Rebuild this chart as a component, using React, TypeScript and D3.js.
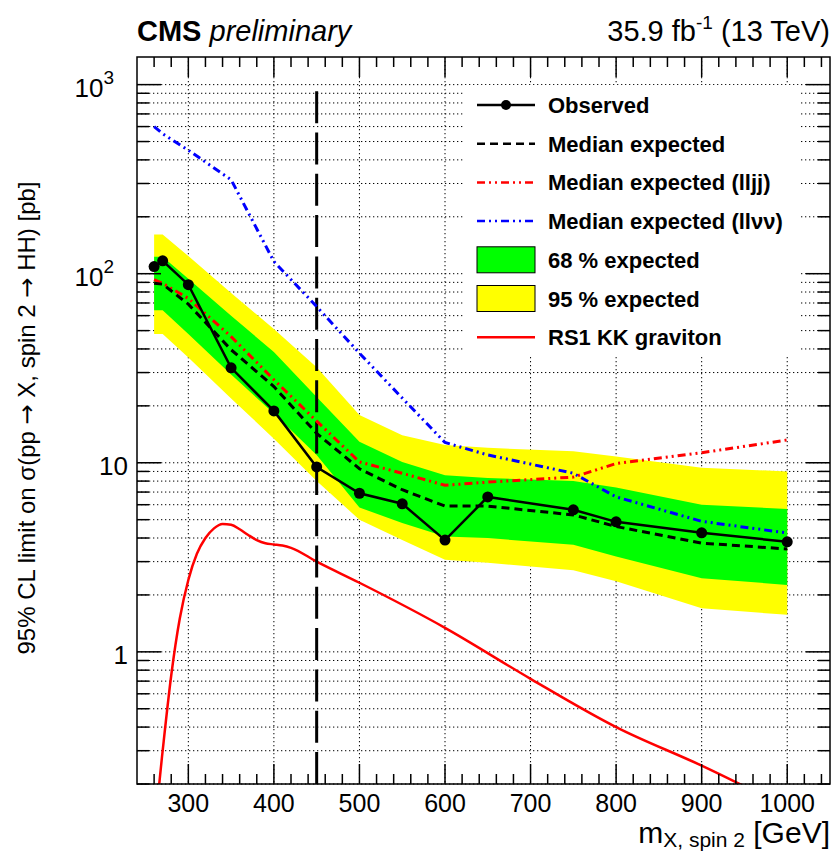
import React from 'react';
import * as d3 from 'd3';

// mass points of the limit scan (GeV)
const masses = [260, 270, 300, 350, 400, 450, 500, 550, 600, 650, 750, 800, 900, 1000];
const observed = [109, 117, 87.5, 31.8, 18.8, 9.5, 6.9, 6.07, 3.9, 6.6, 5.64, 4.87, 4.26, 3.82];
const expected = [89, 88, 69, 39.6, 25.3, 14.3, 9.3, 7.2, 5.9, 5.9, 5.3, 4.6, 3.76, 3.5];
const expectedLljj = [93, 89, 74, 46.5, 27.5, 16.6, 10.1, 8.8, 7.6, 7.9, 8.4, 9.9, 11.3, 13.2];
const expectedLlvv = [600, 550, 450, 314, 116, 67, 38, 22, 12.8, 11.0, 8.8, 6.6, 4.9, 4.25];
const band68Up = [123, 123, 94, 60, 38.5, 22.3, 12.9, 10.1, 8.6, 8.3, 8.0, 7.4, 6.0, 5.7];
const band68Down = [64, 64, 48, 29.3, 18.2, 11.0, 5.8, 4.8, 4.07, 4.0, 3.68, 3.19, 2.45, 2.26];
const band95Up = [161, 161, 124, 79, 51, 32, 17.9, 14.0, 12.4, 12.0, 11.5, 10.8, 9.4, 9.0];
const band95Down = [48, 48, 36, 21.9, 13.4, 8.0, 5.0, 3.9, 3.07, 2.96, 2.7, 2.36, 1.7, 1.57];

// RS1 KK graviton theory curve
const rsMass = [250, 260, 270, 280, 290, 300, 310, 320, 330, 340, 350, 360, 370, 380, 390, 400, 410, 420, 450, 500, 600, 700, 800, 900, 1000];
const rsXsec = [0.05, 0.11, 0.3, 0.75, 1.5, 2.4, 3.3, 4.0, 4.5, 4.75, 4.7, 4.45, 4.15, 3.9, 3.75, 3.7, 3.65, 3.55, 3.0, 2.32, 1.34, 0.72, 0.4, 0.25, 0.15];

const xTicks = [300, 400, 500, 600, 700, 800, 900, 1000];
const yTickLabels = [
  { v: 1, base: '1', exp: '' },
  { v: 10, base: '10', exp: '' },
  { v: 100, base: '10', exp: '2' },
  { v: 1000, base: '10', exp: '3' },
];

const legendItems = [
  'Observed',
  'Median expected',
  'Median expected (lljj)',
  'Median expected (ll\u03bd\u03bd)',
  '68 % expected',
  '95 % expected',
  'RS1 KK graviton',
];

const W = 832;
const H = 854;
const M = { left: 137, right: 830, top: 57, bottom: 784 };
const FONT = '"Liberation Sans", Arial, Helvetica, sans-serif';
const ARROW_FONT = '"DejaVu Sans", sans-serif';

export default function App() {
  const x = d3.scaleLinear().domain([240, 1050]).range([M.left, M.right]);
  const y = d3.scaleLog().domain([0.2, 1400]).range([M.bottom, M.top]);

  const idx = masses.map((_, i) => i);
  const line = (vals: number[]) =>
    d3.line<number>().x(i => x(masses[i])).y(i => y(vals[i]))(idx) || '';
  const band = (lo: number[], hi: number[]) =>
    d3.area<number>().x(i => x(masses[i])).y0(i => y(lo[i])).y1(i => y(hi[i]))(idx) || '';
  const rsPath = d3.line<number>()
    .x(i => x(rsMass[i]))
    .y(i => y(rsXsec[i]))
    .curve(d3.curveMonotoneX)(rsMass.map((_, i) => i)) || '';

  // log ticks: major at decades, minor at 2..9
  const yMinor: number[] = [];
  for (let d = -1; d <= 3; d++) {
    for (let k = 1; k <= 9; k++) {
      const v = k * Math.pow(10, d);
      if (v >= 0.2 && v <= 1400) yMinor.push(v);
    }
  }
  const xMinor = d3.range(260, 1050, 20).filter(v => v % 100 !== 0);

  const dot = '1.3 2.7';
  const lx0 = 477, lx1 = 535, ltx = 548;
  const rowY = (i: number) => 105 + i * 38.7;

  return (
    <svg width={W} height={H} style={{ position: 'absolute', left: 0, top: 0, background: '#fff' }} fontFamily={FONT}>
      <defs>
        <clipPath id="plot">
          <rect x={M.left} y={M.top} width={M.right - M.left} height={M.bottom - M.top} />
        </clipPath>
      </defs>

      {/* grid */}
      <g stroke="#000" strokeWidth={1} strokeDasharray={dot}>
        {yMinor.map(v => (
          <line key={'gy' + v} x1={M.left} x2={M.right} y1={y(v)} y2={y(v)} />
        ))}
        {xTicks.map(v => (
          <line key={'gx' + v} x1={x(v)} x2={x(v)} y1={M.top} y2={M.bottom} />
        ))}
      </g>

      {/* legend background */}
      <rect x={465} y={85} width={335} height={271} fill="#fff" />

      <g clipPath="url(#plot)">
        <path d={band(band95Down, band95Up)} fill="#ffff00" />
        <path d={band(band68Down, band68Up)} fill="#00ff00" />
        <path d={rsPath} fill="none" stroke="#ff0000" strokeWidth={2.5} />
        <line x1={x(450)} x2={x(450)} y1={y(0.2)} y2={y(1000)} stroke="#000" strokeWidth={3} strokeDasharray="32 9.3" />
        <path d={line(expectedLlvv)} fill="none" stroke="#0000ff" strokeWidth={3} strokeDasharray="8 4 2 4 2 4" />
        <path d={line(expectedLljj)} fill="none" stroke="#ff0000" strokeWidth={3} strokeDasharray="8 4 2 4 2 4" />
        <path d={line(expected)} fill="none" stroke="#000" strokeWidth={3} strokeDasharray="8 5" />
        <path d={line(observed)} fill="none" stroke="#000" strokeWidth={2.5} />
        {masses.map((m, i) => (
          <circle key={'o' + m} cx={x(m)} cy={y(observed[i])} r={5.5} fill="#000" />
        ))}
      </g>

      {/* legend */}
      <g>
        <line x1={lx0} x2={lx1} y1={rowY(0)} y2={rowY(0)} stroke="#000" strokeWidth={2.5} />
        <circle cx={(lx0 + lx1) / 2} cy={rowY(0)} r={5} fill="#000" />
        <line x1={lx0} x2={lx1} y1={rowY(1)} y2={rowY(1)} stroke="#000" strokeWidth={2.5} strokeDasharray="8 5" />
        <line x1={lx0} x2={lx1} y1={rowY(2)} y2={rowY(2)} stroke="#ff0000" strokeWidth={2.5} strokeDasharray="8 4 2 4 2 4" />
        <line x1={lx0} x2={lx1} y1={rowY(3)} y2={rowY(3)} stroke="#0000ff" strokeWidth={2.5} strokeDasharray="8 4 2 4 2 4" />
        <rect x={lx0} y={rowY(4) - 13} width={lx1 - lx0} height={26} fill="#00ff00" stroke="#000" strokeWidth={1} />
        <rect x={lx0} y={rowY(5) - 13} width={lx1 - lx0} height={26} fill="#ffff00" stroke="#000" strokeWidth={1} />
        <line x1={lx0} x2={lx1} y1={rowY(6)} y2={rowY(6)} stroke="#ff0000" strokeWidth={2.5} />
        {legendItems.map((t, i) => (
          <text key={t} x={ltx} y={rowY(i) + 8} fontSize={22} fontWeight="bold">{t}</text>
        ))}
      </g>

      {/* frame and ticks */}
      <g stroke="#000" strokeWidth={1.5}>
        <rect x={M.left} y={M.top} width={M.right - M.left} height={M.bottom - M.top} fill="none" />
        {xTicks.map(v => (
          <g key={'xt' + v}>
            <line x1={x(v)} x2={x(v)} y1={M.bottom} y2={M.bottom - 20} />
            <line x1={x(v)} x2={x(v)} y1={M.top} y2={M.top + 20} />
          </g>
        ))}
        {xMinor.map(v => (
          <g key={'xm' + v}>
            <line x1={x(v)} x2={x(v)} y1={M.bottom} y2={M.bottom - 10} />
            <line x1={x(v)} x2={x(v)} y1={M.top} y2={M.top + 10} />
          </g>
        ))}
        {yMinor.map(v => {
          const major = Math.abs(Math.log10(v) - Math.round(Math.log10(v))) < 1e-9;
          const len = major ? 24 : 12;
          return (
            <g key={'yt' + v}>
              <line x1={M.left} x2={M.left + len} y1={y(v)} y2={y(v)} />
              <line x1={M.right} x2={M.right - len} y1={y(v)} y2={y(v)} />
            </g>
          );
        })}
      </g>

      {/* tick labels */}
      {xTicks.map(v => (
        <text key={'xl' + v} x={x(v)} y={812} fontSize={25} textAnchor="middle">{v}</text>
      ))}
      {yTickLabels.map(t => (
        <text key={'yl' + t.v} x={t.exp ? 114 : 128} y={y(t.v) + 12} fontSize={26} textAnchor="end">
          {t.base}
          {t.exp && <tspan fontSize={19} dy={-13}>{t.exp}</tspan>}
        </text>
      ))}

      {/* axis titles */}
      <text x={830} y={843} fontSize={30} textAnchor="end">
        m<tspan fontSize={21} dy={4}>X, spin 2</tspan><tspan dy={-4}> [GeV]</tspan>
      </text>
      <text transform="translate(35,418) rotate(-90)" fontSize={24} textAnchor="middle">
        95% CL limit on σ(pp <tspan fontFamily={ARROW_FONT}>→</tspan> X, spin 2 <tspan fontFamily={ARROW_FONT}>→</tspan> HH) [pb]
      </text>

      {/* header */}
      <text x={137} y={41} fontSize={29}>
        <tspan fontWeight="bold">CMS</tspan>
        <tspan fontStyle="italic"> preliminary</tspan>
      </text>
      <text x={830} y={41} fontSize={29} textAnchor="end">
        35.9 fb<tspan fontSize={19} dy={-12}>-1</tspan><tspan dy={12}> (13 TeV)</tspan>
      </text>
    </svg>
  );
}
